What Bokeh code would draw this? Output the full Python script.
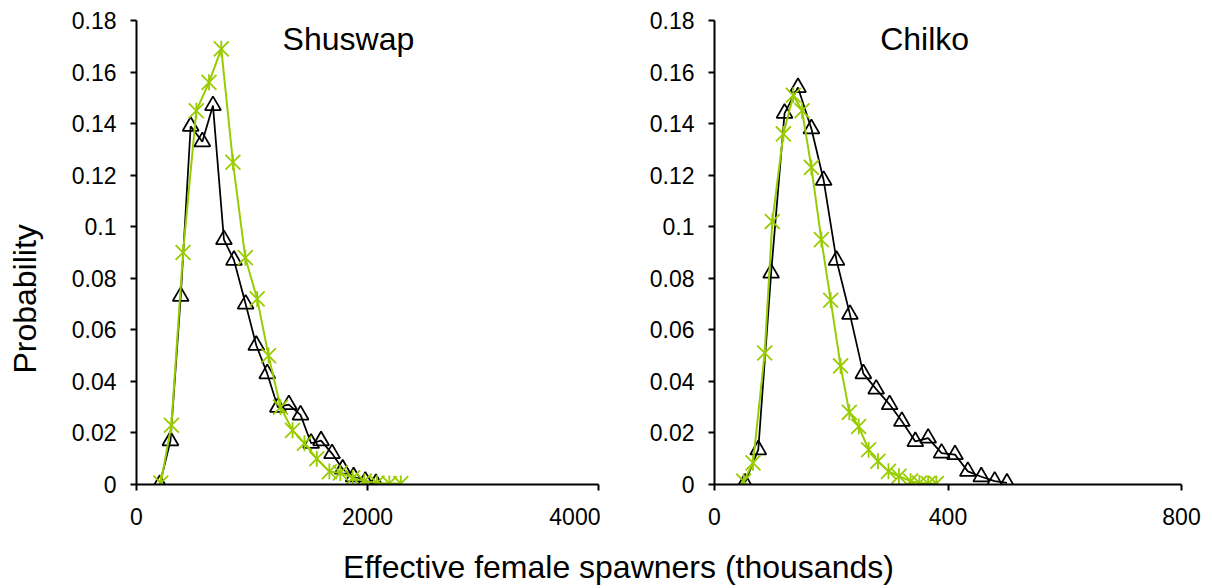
import math
from bokeh.plotting import figure
from bokeh.layouts import column, row
from bokeh.models import Range1d, FixedTicker, Label, NumeralTickFormatter
from bokeh.embed import file_html
from bokeh.resources import INLINE

# ---------------- data ----------------
shuswap_tri_x = [201, 294, 383, 469, 570, 662, 757, 844, 945, 1037, 1132,
                 1224, 1319, 1420, 1512, 1598, 1693, 1785, 1880, 1981, 2073]
shuswap_tri_y = [0.0, 0.017, 0.073, 0.139, 0.133, 0.147, 0.095, 0.087, 0.070, 0.054, 0.043,
                 0.030, 0.031, 0.027, 0.016, 0.017, 0.012, 0.006, 0.003, 0.0013, 0.0004]
shuswap_star_x = [210, 302, 403, 518, 628, 734, 835, 942, 1045, 1143, 1247,
                  1351, 1454, 1561, 1670, 1765, 1872, 1972, 2082, 2189, 2289]
shuswap_star_y = [0.0006, 0.023, 0.090, 0.145, 0.156, 0.169, 0.125, 0.088, 0.072, 0.050, 0.030,
                  0.021, 0.016, 0.010, 0.005, 0.0045, 0.0026, 0.0013, 0.0006, 0.0004, 0.0004]

chilko_tri_x = [52, 75, 97, 120, 143, 166, 187, 209, 232, 255, 277,
                300, 321, 344, 366, 389, 412, 434, 457, 480, 501]
chilko_tri_y = [0.0006, 0.0135, 0.082, 0.144, 0.154, 0.138, 0.118, 0.087, 0.066, 0.043, 0.037,
                0.031, 0.0245, 0.0167, 0.018, 0.0122, 0.0116, 0.0051, 0.003, 0.0013, 0.0006]
chilko_star_x = [50, 66, 86, 99, 118, 135, 150, 166, 183, 199, 216,
                 231, 247, 264, 280, 298, 316, 336, 351, 366, 380]
chilko_star_y = [0.0013, 0.0084, 0.051, 0.102, 0.136, 0.151, 0.145, 0.123, 0.095, 0.0715, 0.046,
                 0.028, 0.0225, 0.0135, 0.009, 0.0051, 0.0032, 0.0013, 0.0006, 0.0004, 0.0004]

y_ticks = [0, 0.02, 0.04, 0.06, 0.08, 0.1, 0.12, 0.14, 0.16, 0.18]
y_tick_labels = ["0", "0.02", "0.04", "0.06", "0.08", "0.1", "0.12", "0.14", "0.16", "0.18"]
shuswap_x_ticks = [0, 2000, 4000]
shuswap_x_labels = ["0", "2000", "4000"]
chilko_x_ticks = [0, 400, 800]
chilko_x_labels = ["0", "400", "800"]

panel_titles = ["Shuswap", "Chilko"]
y_label = "Probability"
x_label = "Effective female spawners (thousands)"

# ---------------- style ----------------
FONT = "Liberation Sans"
BLACK = "#000000"
GREEN = "#99CC00"
TICK_SIZE = "23px"
BIG_SIZE = "32px"


def blank_figure(width, height):
    f = figure(width=width, height=height, x_range=Range1d(0, width),
               y_range=Range1d(0, height), output_backend="svg",
               toolbar_location=None, min_border=0)
    f.axis.visible = False
    f.xgrid.visible = False
    f.ygrid.visible = False
    f.outline_line_color = None
    return f


def make_panel(width, b_left, b_right, xmax, xticks, xlabels, title, title_x,
               tx, ty, sx, sy):
    p = figure(width=width, height=540,
               x_range=Range1d(0, xmax), y_range=Range1d(0, 0.18),
               output_backend="svg", toolbar_location=None,
               min_border_left=b_left, min_border_right=b_right,
               min_border_top=20, min_border_bottom=56)
    p.xgrid.visible = False
    p.ygrid.visible = False
    p.outline_line_color = None

    p.xaxis.ticker = FixedTicker(ticks=xticks)
    p.xaxis.major_label_overrides = {t: l for t, l in zip(xticks, xlabels)}
    p.yaxis.ticker = FixedTicker(ticks=y_ticks)
    p.yaxis.formatter = NumeralTickFormatter(format="0.[00]")
    p.yaxis.major_label_overrides = {t: l for t, l in zip(y_ticks, y_tick_labels)}

    for ax in (p.xaxis, p.yaxis):
        ax.axis_line_color = BLACK
        ax.axis_line_width = 2
        ax.major_tick_line_color = BLACK
        ax.major_tick_line_width = 2
        ax.major_tick_out = 6
        ax.major_tick_in = 0
        ax.minor_tick_out = 0
        ax.minor_tick_in = 0
        ax.major_label_text_font = FONT
        ax.major_label_text_font_size = TICK_SIZE
        ax.major_label_text_color = BLACK
    p.yaxis.major_label_standoff = 14
    p.xaxis.major_label_standoff = 17

    # black open triangles
    p.line(tx, ty, line_color=BLACK, line_width=1.75)
    p.scatter(tx, ty, marker="triangle", size=16, line_color=BLACK,
              fill_color=None, line_width=1.75)
    # green stars (x plus vertical bar)
    p.line(sx, sy, line_color=GREEN, line_width=2)
    p.scatter(sx, sy, marker="x", size=21, line_color=GREEN, line_width=1.8)
    p.scatter(sx, sy, marker="dash", size=16, angle=math.pi / 2,
              line_color=GREEN, line_width=1.8)

    p.add_layout(Label(x=title_x, y=0.1728, text=title, text_align="center",
                       text_baseline="middle", text_font=FONT,
                       text_font_size=BIG_SIZE, text_color=BLACK))
    return p


# left strip carrying the y-axis title
p0 = blank_figure(50, 540)
p0.add_layout(Label(x=24, y=540 - 324, text=y_label, angle=math.pi / 2,
                    text_align="center", text_baseline="middle",
                    text_font=FONT, text_font_size=BIG_SIZE, text_color=BLACK))

p1 = make_panel(550, 86, 2, 4000, shuswap_x_ticks, shuswap_x_labels,
                panel_titles[0], 1835,
                shuswap_tri_x, shuswap_tri_y, shuswap_star_x, shuswap_star_y)

p2 = make_panel(612, 114, 31, 800, chilko_x_ticks, chilko_x_labels,
                panel_titles[1], 360,
                chilko_tri_x, chilko_tri_y, chilko_star_x, chilko_star_y)

# bottom strip carrying the shared x-axis title
p3 = blank_figure(1212, 48)
p3.add_layout(Label(x=618, y=22, text=x_label, text_align="center",
                    text_baseline="middle", text_font=FONT,
                    text_font_size=BIG_SIZE, text_color=BLACK))

layout = column(row(p0, p1, p2), p3)
open("out.html", "w").write(file_html(layout, INLINE))
